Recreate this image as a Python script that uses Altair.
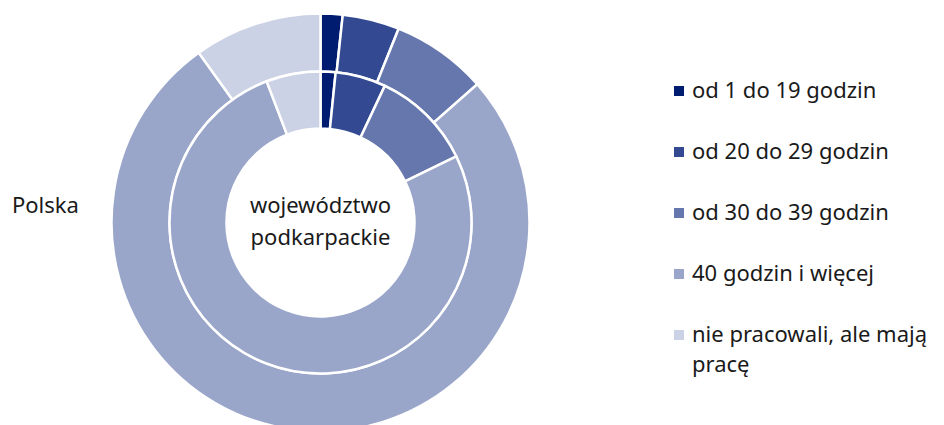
import altair as alt
import pandas as pd

categories = ["od 1 do 19 godzin", "od 20 do 29 godzin", "od 30 do 39 godzin",
              "40 godzin i więcej", "nie pracowali, ale mają pracę"]
polska = [1.7, 4.4, 7.4, 76.6, 9.9]
podkarpackie = [1.6, 5.4, 10.8, 76.4, 5.8]
colors = ["#001c71", "#334a93", "#6677ad", "#99a6ca", "#ccd2e5"]

FONT = "Noto Sans"
FS = 22

def frame(values):
    return pd.DataFrame({"category": categories, "value": values,
                         "order": list(range(len(categories)))})

CX, CY = 312.5, 213.5

color = alt.Color(
    "category:N",
    scale=alt.Scale(domain=categories, range=colors),
    legend=alt.Legend(
        title=None, orient="none", legendX=660, legendY=71,
        symbolType="square", symbolSize=100, symbolStrokeWidth=0,
        labelFont=FONT, labelFontSize=FS, labelColor="#1a1a1a",
        labelOffset=2, rowPadding=39, labelLimit=400,
        labelExpr="datum.label == 'nie pracowali, ale mają pracę' ? ['nie pracowali, ale mają', 'pracę'] : datum.label",
    ),
)

def ring(values, inner, outer):
    return alt.Chart(frame(values)).mark_arc(
        innerRadius=inner, outerRadius=outer, stroke="white", strokeWidth=2.5
    ).encode(
        theta=alt.Theta("value:Q", stack=True),
        order=alt.Order("order:Q"),
        color=color,
        x=alt.value(CX), y=alt.value(CY),
    )

outer_ring = ring(polska, 151, 209)
inner_ring = ring(podkarpackie, 94, 151)

label_polska = alt.Chart(pd.DataFrame({"t": ["Polska"]})).mark_text(
    font=FONT, fontSize=FS, align="left", baseline="middle", color="#1a1a1a"
).encode(text="t:N", x=alt.value(4), y=alt.value(197))

label_center = alt.Chart(pd.DataFrame({"t": ["województwo\npodkarpackie"]})).mark_text(
    font=FONT, fontSize=FS, align="center", baseline="middle", color="#1a1a1a",
    lineBreak="\n", lineHeight=32
).encode(text="t:N", x=alt.value(CX), y=alt.value(197))

chart = alt.layer(outer_ring, inner_ring, label_polska, label_center).properties(
    width=928, height=409, padding=0
).configure(
    style={"guide-label": {"lineHeight": 30}}
).configure_view(stroke=None)

chart.save("out.html", embed_options={"renderer": "svg", "actions": False})
